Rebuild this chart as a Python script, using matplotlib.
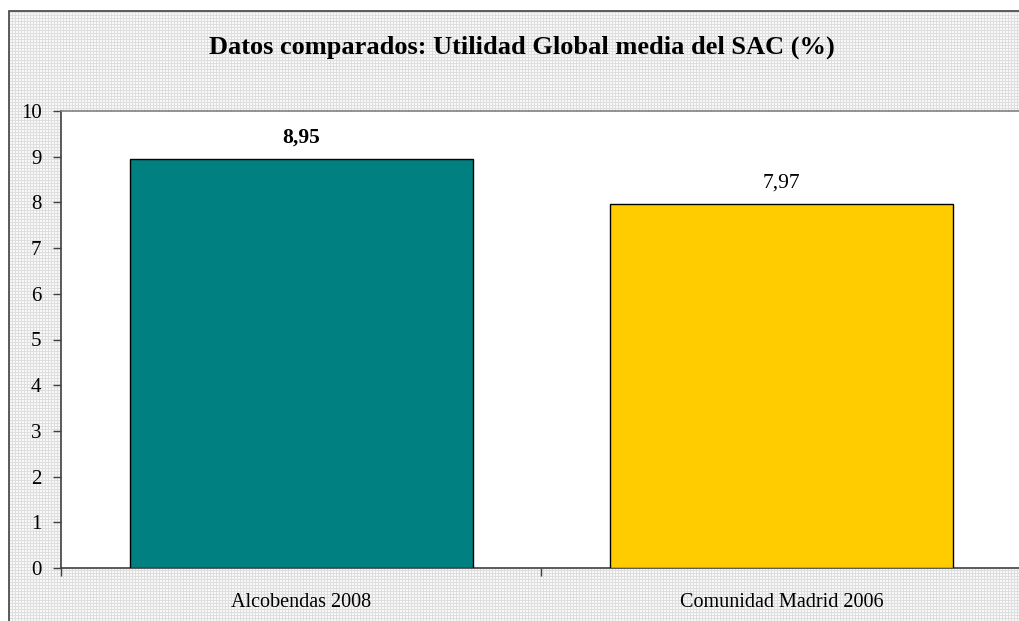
import matplotlib

matplotlib.use("Agg")
import matplotlib.pyplot as plt
import numpy as np
from matplotlib.patches import Rectangle

plt.rcParams["font.family"] = ["Liberation Serif", "DejaVu Serif"]

# values
categories = ["Alcobendas 2008", "Comunidad Madrid 2006"]
values = [8.95, 7.97]
value_labels = ["8,95", "7,97"]
label_weights = ["bold", "normal"]
bar_colors = ["#008080", "#FFCC00"]
title = "Datos comparados: Utilidad Global media del SAC (%)"

W, H, DPI = 1020, 621, 100
fig = plt.figure(figsize=(W / DPI, H / DPI), dpi=DPI)
fig.patch.set_facecolor("white")

# dotted grey fill of the chart area (fine 3 px grid)
yy, xx = np.mgrid[0:H, 0:W]
pattern = np.where((xx % 3 == 0) | (yy % 3 == 0), 0.87, 0.97)
pattern[:11, :] = 1.0
pattern[:, :9] = 1.0
fig.figimage(pattern, xo=0, yo=0, cmap="gray", vmin=0, vmax=1, origin="upper", zorder=0)

# outer chart frame
fig.add_artist(Rectangle((9 / W, -0.1), 1.2, 1 - 11 / H + 0.1,
                         transform=fig.transFigure, fill=False,
                         edgecolor="#404040", linewidth=1.2, zorder=1))

left, right = 61 / W, 1022 / W
bottom, top = 1 - 568 / H, 1 - 111 / H
ax = fig.add_axes([left, bottom, right - left, top - bottom])
ax.set_facecolor("white")
ax.set_zorder(2)

x = np.arange(len(categories))
ax.bar(x, values, width=0.714, color=bar_colors, edgecolor="black", linewidth=1.0, zorder=3)

for xi, v, lab, wt in zip(x, values, value_labels, label_weights):
    ax.annotate(lab, (xi, v), xytext=(0, 8), textcoords="offset points",
                ha="center", va="bottom", fontsize=15.5, fontweight=wt)

ax.set_xlim(-0.5, 1.5)
ax.set_ylim(0, 10)
ax.set_yticks(range(0, 11))
ax.set_xticks([-0.5, 0.5, 1.5])
ax.set_xticklabels([])
ax.set_xticks(x, minor=True)
ax.set_xticklabels(categories, minor=True)
ax.tick_params(axis="x", which="minor", length=0, pad=18, labelsize=14.5)
ax.tick_params(axis="x", which="major", length=6, width=1, color="#404040")
ax.tick_params(axis="y", length=6, width=1, color="#404040", labelsize=15, pad=8)

for side in ["left", "bottom"]:
    ax.spines[side].set_color("#404040")
    ax.spines[side].set_linewidth(1.2)
ax.spines["top"].set_color("#808080")
ax.spines["top"].set_linewidth(1.2)
ax.spines["right"].set_visible(False)

fig.text(522 / W, 1 - 47 / H, title, ha="center", va="center",
         fontsize=19, fontweight="bold")

fig.savefig("out.png", dpi=DPI)
